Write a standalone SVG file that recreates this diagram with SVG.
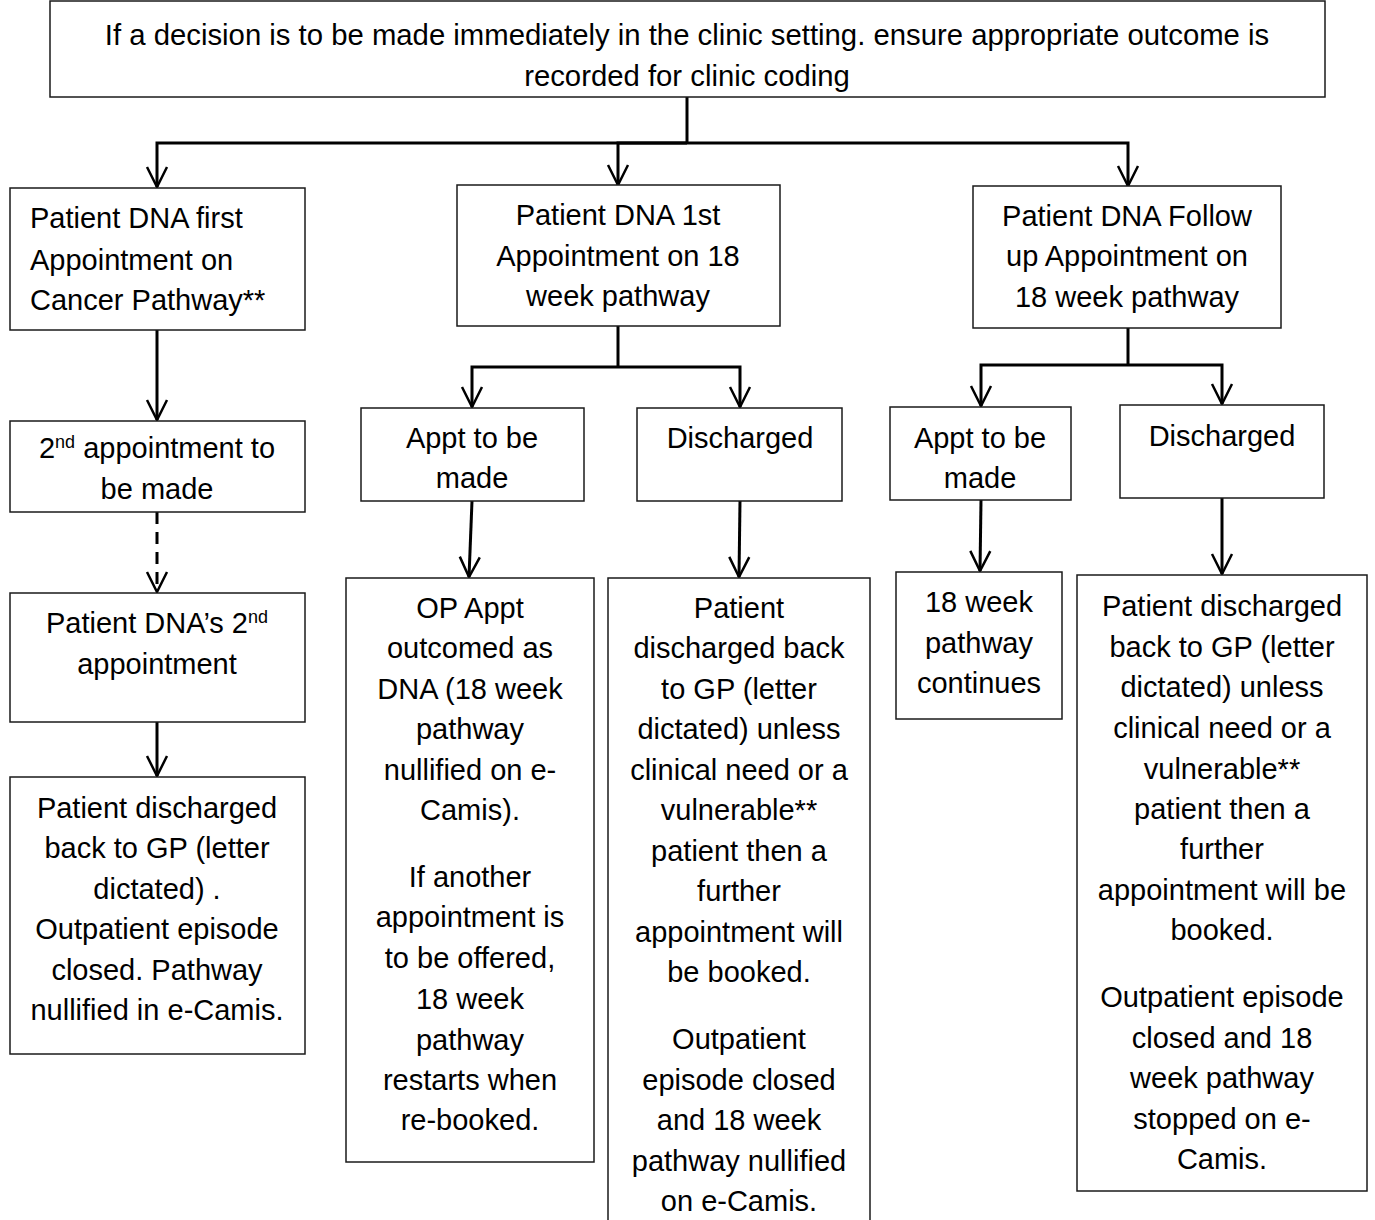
<svg xmlns="http://www.w3.org/2000/svg" width="1375" height="1220" viewBox="0 0 1375 1220">
<defs>
<style>
.box{fill:#fff;stroke:#1a1a1a;stroke-width:1.5}
.t{font-family:"Liberation Sans",Arial,sans-serif;font-size:29px;fill:#000;text-anchor:middle}
.l{text-anchor:start}
.c{fill:none;stroke:#000;stroke-width:3}
.d{stroke-dasharray:12 8}
.sup{font-size:18px}
</style>
<marker id="ah" viewBox="0 0 24 24" markerWidth="24" markerHeight="24" refX="22" refY="12" orient="auto" markerUnits="userSpaceOnUse">
<path d="M2 2 L22 12 L2 22" fill="none" stroke="#000" stroke-width="2.5"/>
</marker>
</defs>
<rect width="1375" height="1220" fill="#fff"/>

<g id="connectors">
<path class="c" d="M687 97 V143"/>
<path class="c" d="M687 143 H157 V187" marker-end="url(#ah)"/>
<path class="c" d="M687 143 H618 V185" marker-end="url(#ah)"/>
<path class="c" d="M687 143 H1128 V186" marker-end="url(#ah)"/>
<path class="c" d="M157 330 V420" marker-end="url(#ah)"/>
<path class="c d" d="M157 512 V592" marker-end="url(#ah)"/>
<path class="c" d="M157 722 V776" marker-end="url(#ah)"/>
<path class="c" d="M618 326 V367"/>
<path class="c" d="M618 367 H472 V407" marker-end="url(#ah)"/>
<path class="c" d="M618 367 H740 V407" marker-end="url(#ah)"/>
<path class="c" d="M472 501 L469 577" marker-end="url(#ah)"/>
<path class="c" d="M740 501 L739 577" marker-end="url(#ah)"/>
<path class="c" d="M1128 328 V365"/>
<path class="c" d="M1128 365 H981 V406" marker-end="url(#ah)"/>
<path class="c" d="M1128 365 H1222 V404" marker-end="url(#ah)"/>
<path class="c" d="M981 500 L980 571" marker-end="url(#ah)"/>
<path class="c" d="M1222 498 V574" marker-end="url(#ah)"/>
</g>

<g id="top">
<rect class="box" x="50" y="1" width="1275" height="96"/>
<text class="t" x="687" y="45" style="font-size:29.3px">If a decision is to be made immediately in the clinic setting. ensure appropriate outcome is</text>
<text class="t" x="687" y="86" style="font-size:29.3px">recorded for clinic coding</text>
</g>

<g id="cancer">
<rect class="box" x="10" y="188" width="295" height="142"/>
<text class="t l" x="30" y="228">Patient DNA first</text>
<text class="t l" x="30" y="270">Appointment on</text>
<text class="t l" x="30" y="310">Cancer Pathway**</text>
</g>

<g id="second-appt">
<rect class="box" x="10" y="421" width="295" height="91"/>
<text class="t" x="157" y="458">2<tspan class="sup" dy="-10">nd</tspan><tspan dy="10"> appointment to</tspan></text>
<text class="t" x="157" y="499">be made</text>
</g>

<g id="dna-second">
<rect class="box" x="10" y="593" width="295" height="129"/>
<text class="t" x="157" y="633">Patient DNA’s 2<tspan class="sup" dy="-10">nd</tspan></text>
<text class="t" x="157" y="674">appointment</text>
</g>

<g id="cancer-discharged">
<rect class="box" x="10" y="777" width="295" height="277"/>
<text class="t" x="157" y="818">Patient discharged</text>
<text class="t" x="157" y="858">back to GP (letter</text>
<text class="t" x="157" y="899">dictated) .</text>
<text class="t" x="157" y="939">Outpatient episode</text>
<text class="t" x="157" y="980">closed. Pathway</text>
<text class="t" x="157" y="1020">nullified in e-Camis.</text>
</g>

<g id="first18">
<rect class="box" x="457" y="185" width="323" height="141"/>
<text class="t" x="618" y="225">Patient DNA 1st</text>
<text class="t" x="618" y="266">Appointment on 18</text>
<text class="t" x="618" y="306">week pathway</text>
</g>

<g id="first18-appt">
<rect class="box" x="361" y="408" width="223" height="93"/>
<text class="t" x="472" y="448">Appt to be</text>
<text class="t" x="472" y="488">made</text>
</g>

<g id="first18-discharged">
<rect class="box" x="637" y="408" width="205" height="93"/>
<text class="t" x="740" y="448">Discharged</text>
</g>

<g id="op-appt">
<rect class="box" x="346" y="578" width="248" height="584"/>
<text class="t" x="470" y="618">OP Appt</text>
<text class="t" x="470" y="658">outcomed as</text>
<text class="t" x="470" y="699">DNA (18 week</text>
<text class="t" x="470" y="739">pathway</text>
<text class="t" x="470" y="780">nullified on e-</text>
<text class="t" x="470" y="820">Camis).</text>
<text class="t" x="470" y="887">If another</text>
<text class="t" x="470" y="927">appointment is</text>
<text class="t" x="470" y="968">to be offered,</text>
<text class="t" x="470" y="1009">18 week</text>
<text class="t" x="470" y="1050">pathway</text>
<text class="t" x="470" y="1090">restarts when</text>
<text class="t" x="470" y="1130">re-booked.</text>
</g>

<g id="first18-gp">
<rect class="box" x="608" y="578" width="262" height="660"/>
<text class="t" x="739" y="618">Patient</text>
<text class="t" x="739" y="658">discharged back</text>
<text class="t" x="739" y="699">to GP (letter</text>
<text class="t" x="739" y="739">dictated) unless</text>
<text class="t" x="739" y="780">clinical need or a</text>
<text class="t" x="739" y="820">vulnerable**</text>
<text class="t" x="739" y="861">patient then a</text>
<text class="t" x="739" y="901">further</text>
<text class="t" x="739" y="942">appointment will</text>
<text class="t" x="739" y="982">be booked.</text>
<text class="t" x="739" y="1049">Outpatient</text>
<text class="t" x="739" y="1090">episode closed</text>
<text class="t" x="739" y="1130">and 18 week</text>
<text class="t" x="739" y="1171">pathway nullified</text>
<text class="t" x="739" y="1211">on e-Camis.</text>
</g>

<g id="followup">
<rect class="box" x="973" y="186" width="308" height="142"/>
<text class="t" x="1127" y="226">Patient DNA Follow</text>
<text class="t" x="1127" y="266">up Appointment on</text>
<text class="t" x="1127" y="307">18 week pathway</text>
</g>

<g id="followup-appt">
<rect class="box" x="890" y="407" width="181" height="93"/>
<text class="t" x="980" y="448">Appt to be</text>
<text class="t" x="980" y="488">made</text>
</g>

<g id="followup-discharged">
<rect class="box" x="1120" y="405" width="204" height="93"/>
<text class="t" x="1222" y="446">Discharged</text>
</g>

<g id="continues">
<rect class="box" x="896" y="572" width="166" height="147"/>
<text class="t" x="979" y="612">18 week</text>
<text class="t" x="979" y="653">pathway</text>
<text class="t" x="979" y="693">continues</text>
</g>

<g id="followup-gp">
<rect class="box" x="1077" y="575" width="290" height="616"/>
<text class="t" x="1222" y="616">Patient discharged</text>
<text class="t" x="1222" y="657">back to GP (letter</text>
<text class="t" x="1222" y="697">dictated) unless</text>
<text class="t" x="1222" y="738">clinical need or a</text>
<text class="t" x="1222" y="779">vulnerable**</text>
<text class="t" x="1222" y="819">patient then a</text>
<text class="t" x="1222" y="859">further</text>
<text class="t" x="1222" y="900">appointment will be</text>
<text class="t" x="1222" y="940">booked.</text>
<text class="t" x="1222" y="1007">Outpatient episode</text>
<text class="t" x="1222" y="1048">closed and 18</text>
<text class="t" x="1222" y="1088">week pathway</text>
<text class="t" x="1222" y="1129">stopped on e-</text>
<text class="t" x="1222" y="1169">Camis.</text>
</g>
</svg>
